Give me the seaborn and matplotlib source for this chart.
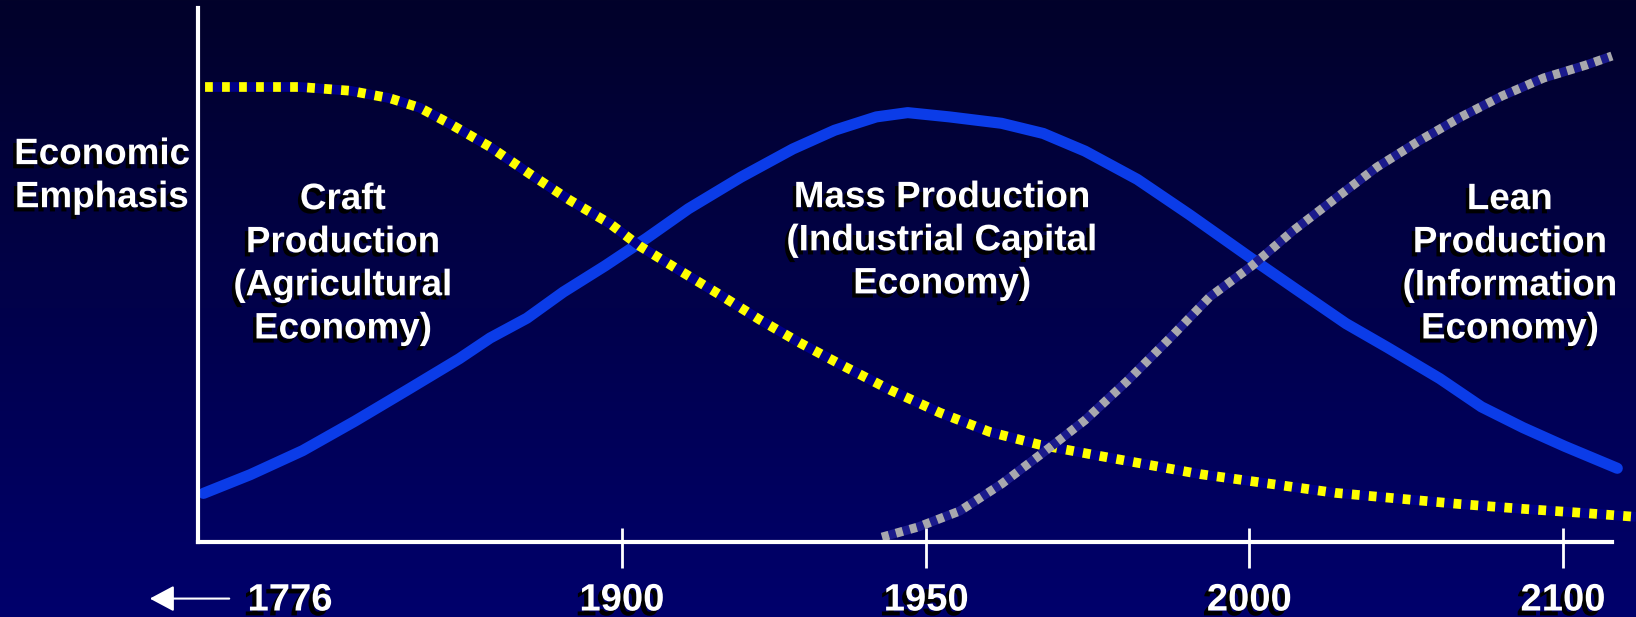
import numpy as np
import matplotlib
matplotlib.use("Agg")
import matplotlib.pyplot as plt
import matplotlib.patheffects as pe
from matplotlib.colors import LinearSegmentedColormap
import seaborn as sns

# timeline positions (1900 = 1, 1950 ~ 2, 2000 = 3, 2100 = 4), emphasis 0-100
mass_x = [-0.334, -0.185, -0.018, 0.148, 0.314, 0.481, 0.580, 0.697, 0.813, 0.946,
          1.079, 1.212, 1.379, 1.545, 1.678, 1.811, 1.911, 2.044, 2.210, 2.343,
          2.476, 2.643, 2.809, 3.009, 3.142, 3.308, 3.441, 3.607, 3.740, 3.873,
          4.006, 4.173]
mass_y = [9.1, 12.6, 17.1, 22.6, 28.4, 34.3, 38.2, 41.9, 46.8, 51.7,
          56.9, 62.4, 68.3, 73.6, 77.1, 79.6, 80.4, 79.6, 78.4, 76.5,
          73.2, 67.9, 61.3, 53.0, 47.6, 40.9, 36.4, 30.6, 25.3, 21.4,
          17.9, 13.8]

craft_x = [-0.329, -0.026, 0.133, 0.260, 0.356, 0.452, 0.579, 0.707, 0.834, 0.962,
           1.057, 1.185, 1.312, 1.440, 1.567, 1.695, 1.854, 2.014, 2.173, 2.332,
           2.524, 2.843, 3.066, 3.273, 3.480, 3.671, 3.872, 4.073, 4.232]
craft_y = [85.2, 85.2, 84.5, 83.1, 81.3, 78.3, 74.0, 68.9, 64.0, 59.6,
           55.4, 50.8, 46.3, 41.6, 37.3, 33.3, 28.5, 24.2, 20.6, 18.2,
           16.1, 12.7, 10.9, 9.2, 8.1, 7.1, 6.2, 5.4, 4.7]

lean_x = [1.829, 1.944, 2.077, 2.211, 2.342, 2.476, 2.610, 2.744, 2.874, 3.008,
          3.142, 3.276, 3.407, 3.541, 3.675, 3.805, 3.939, 4.073, 4.156]
lean_y = [0.9, 2.8, 5.8, 10.9, 16.7, 22.8, 30.1, 38.0, 45.9, 51.7,
          58.4, 64.4, 70.2, 75.1, 79.6, 83.5, 86.9, 89.3, 91.0]

tick_pos = [-0.058, 1.0, 1.97, 3.0, 4.0]
tick_labels = ["1776", "1900", "1950", "2000", "2100"]

region_labels = ["Craft\nProduction\n(Agricultural\nEconomy)",
                 "Mass Production\n(Industrial Capital\nEconomy)",
                 "Lean\nProduction\n(Information\nEconomy)"]
region_x = [0.11, 2.02, 3.83]
region_y = [52.0, 56.4, 52.0]

sns.set_theme(style="white")
plt.rcParams["font.family"] = ["Liberation Sans", "DejaVu Sans"]
plt.rcParams["font.weight"] = "bold"

fig = plt.figure(figsize=(16.36, 6.17), dpi=100)

# dark navy gradient background
bg = fig.add_axes([0, 0, 1, 1], zorder=0)
grad = np.linspace(0, 1, 256).reshape(-1, 1)
bg.imshow(grad, aspect="auto", extent=[0, 1, 0, 1], origin="upper",
          cmap=LinearSegmentedColormap.from_list("bg", ["#02022a", "#00006c"]))
bg.axis("off")

ax = fig.add_axes([0.121, 0.1216, 0.8643, 0.8655], zorder=1)
ax.set_facecolor("none")

sns.lineplot(x=mass_x, y=mass_y, ax=ax, color="#0b3ce8", linewidth=8,
             solid_capstyle="round", estimator=None, sort=False, clip_on=False, zorder=2)
sns.lineplot(x=craft_x, y=craft_y, ax=ax, color="#ffff00", linewidth=7,
             linestyle=(0, (0.8, 0.95)), gapcolor="#000088", estimator=None,
             sort=False, clip_on=False, zorder=3)
sns.lineplot(x=lean_x, y=lean_y, ax=ax, color="#a8a8ae", linewidth=6.5,
             linestyle=(0, (0.8, 0.8)), gapcolor="#1a1a8c", estimator=None,
             sort=False, clip_on=False, zorder=4)

ax.set_xlim(-0.3516, 4.156)
ax.set_ylim(0, 100)
ax.set_xlabel("")
ax.set_ylabel("")

for s in ["top", "right"]:
    ax.spines[s].set_visible(False)
for s in ["left", "bottom"]:
    ax.spines[s].set_color("white")
    ax.spines[s].set_linewidth(3)
    ax.spines[s].set_zorder(5)

shadow = [pe.withSimplePatchShadow(offset=(-2.5, -3), shadow_rgbFace="black", alpha=1.0)]
tick_shadow = [pe.withSimplePatchShadow(offset=(-3, -3.5), shadow_rgbFace="black", alpha=1.0)]

ax.set_yticks([])
ax.set_xticks(tick_pos)
ax.set_xticklabels(tick_labels, fontsize=27.5, fontweight="bold", color="white")
ax.set_xticks(tick_pos[1:], minor=True)
ax.xaxis.remove_overlapping_locs = False
ax.tick_params(axis="x", which="major", bottom=True, direction="out", length=18.7,
               width=2, color="white", pad=10.5)
ax.tick_params(axis="x", which="minor", bottom=True, direction="in", length=10,
               width=2, color="white")
ax.xaxis.get_major_ticks()[0].tick1line.set_visible(False)
for lab in ax.get_xticklabels():
    lab.set_path_effects(tick_shadow)

# arrow pointing back in time
ax.annotate("", xy=(-0.514, -10.6), xytext=(-0.243, -10.6), xycoords="data",
            arrowprops=dict(arrowstyle="-|>,head_length=0.75,head_width=0.4",
                            color="white", lw=1.5, mutation_scale=20),
            annotation_clip=False)

ax.text(-0.068, 0.685, "Economic\nEmphasis", transform=ax.transAxes, ha="center",
        va="center", fontsize=26.5, fontweight="bold", color="white",
        linespacing=1.3, path_effects=shadow)

for lbl, x, y in zip(region_labels, region_x, region_y):
    ax.text(x, y, lbl, ha="center", va="center", fontsize=26.5, fontweight="bold",
            color="white", linespacing=1.3, path_effects=shadow, zorder=6)

fig.savefig("out.png", dpi=100)
